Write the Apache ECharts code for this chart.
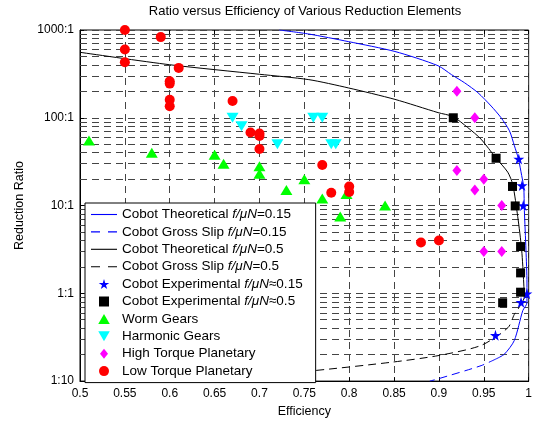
<!DOCTYPE html>
<html><head><meta charset="utf-8">
<script src="https://cdn.jsdelivr.net/npm/echarts@6/dist/echarts.min.js"></script>
<style>html,body{margin:0;padding:0;background:#fff}#c{width:535px;height:423px}</style>
</head><body><div id="c"></div>
<script>
// ---- data (efficiency, reduction ratio) ----
const blueTheory = [[0.722,1000],[0.755,900],[0.799,738],[0.851,569],[0.899,392],[0.914,310],[0.9287,250],[0.9435,193],[0.9582,136],[0.9693,100],[0.9786,71],[0.9841,48],[0.9886,34],[0.9922,22],[0.9945,16.3],[0.9952,8.85],[0.997,3.13],[0.9981,1.31],[0.9981,0.78],[0.9934,0.634],[0.984,0.29],[0.973,0.203],[0.9637,0.179]];
const blueSlip = [[0.9637,0.179],[0.947,0.150],[0.899,0.106],[0.8898,0.1]];
const blackTheory = [[0.5,557],[0.6,402],[0.7,313],[0.755,272],[0.799,219],[0.851,162],[0.899,114.5],[0.9157,103],[0.932,77.5],[0.947,57],[0.9637,34.6],[0.9767,24],[0.9823,17.3],[0.9878,7.5],[0.9922,3.13],[0.9945,1.31],[0.995,0.89],[0.993,0.8]];
const blackSlip = [[0.993,0.8],[0.988,0.656],[0.984,0.575],[0.977,0.407],[0.947,0.255],[0.899,0.195],[0.847,0.164],[0.762,0.132],[0.6475,0.1035],[0.6,0.1018],[0.58,0.1]];
const cobotExp015 = [[0.989,34],[0.9926,16.9],[0.994,10],[0.998,0.99],[0.9915,0.79],[0.963,0.333]];
const cobotExp05 = [[0.916,100],[0.9637,34.6],[0.982,16.5],[0.985,9.9],[0.991,3.41],[0.991,1.71],[0.991,1.03],[0.971,0.78]];
const wormGears = [[0.51,55],[0.58,40],[0.65,38],[0.66,30],[0.70,28],[0.70,23],[0.73,15],[0.75,20],[0.77,12],[0.797,13.5],[0.79,7.5],[0.84,10]];
const harmonicGears = [[0.67,100],[0.68,80],[0.72,50],[0.76,100],[0.77,100],[0.78,50],[0.785,50]];
const highTorque = [[0.92,200],[0.94,100],[0.92,25],[0.95,20],[0.94,15],[0.97,10],[0.95,3],[0.97,3]];
const lowTorque = [[0.55,1000],[0.55,600],[0.55,430],[0.59,830],[0.61,370],[0.60,260],[0.60,245],[0.60,160],[0.60,135],[0.67,155],[0.69,68],[0.70,66],[0.70,62],[0.70,44],[0.77,29],[0.78,14],[0.80,16.5],[0.80,14.3],[0.88,3.8],[0.90,4]];
const yTickValues = [0.1,1,10,100,1000];
const yTickLabels = ['1:10','1:1','10:1','100:1','1000:1'];
const yMinorGrid = [0.2,0.3,0.4,0.5,0.6,0.7,0.8,0.9,2,3,4,5,6,7,8,9,20,30,40,50,60,70,80,90,200,300,400,500,600,700,800,900];
const names = ['Cobot Theoretical f/μN=0.15','Cobot Gross Slip f/μN=0.15','Cobot Theoretical f/μN=0.5','Cobot Gross Slip f/μN=0.5','Cobot Experimental f/μN≈0.15','Cobot Experimental f/μN≈0.5','Worm Gears','Harmonic Gears','High Torque Planetary','Low Torque Planetary'];

const FONT = 'Arial, "Liberation Sans", sans-serif';
const gridDash = {type:[7,5], color:'#444', width:1};
const starPath = 'path://M50,0 L61,35 L98,35 L68,57 L79,91 L50,70 L21,91 L32,57 L2,35 L39,35 Z';
const downTri = 'path://M0,0 L100,0 L50,87 Z';
const upTri = 'path://M50,0 L100,87 L0,87 Z';
const squarePath = 'path://M0,0 L10,0 L10,10 L0,10 Z';
const diamondPath = 'path://M40,0 L80,50 L40,100 L0,50 Z';
const solidIcon = 'path://M0,0 L26,0 L26,1.1 L0,1.1 Z';
const dashIcon = 'path://M0,0 L9,0 L9,1.1 L0,1.1 Z M17,0 L26,0 L26,1.1 L17,1.1 Z';
const symbols = [solidIcon, dashIcon, solidIcon, dashIcon, starPath, squarePath, upTri, downTri, diamondPath, 'circle'];

const chart = echarts.init(document.getElementById('c'), null, {renderer:'canvas'});
function lineSeries(name, data, color, dashed, extra) {
  return Object.assign({
    name, type:'line', data, symbol:'none', smooth:0.25, clip:true, z:3,
    lineStyle:{color, width:1, type: dashed ? [8,5] : 'solid'},
    itemStyle:{color}
  }, extra || {});
}
function scatter(name, data, color, symbol, size) {
  return {name, type:'scatter', data, symbol, symbolSize:size, z:4,
    itemStyle:{color, opacity:1}, emphasis:{disabled:true}};
}
chart.setOption({
  animation:false,
  backgroundColor:'#fff',
  title:{text:'Ratio versus Efficiency of Various Reduction Elements', left:305, top:5, padding:0, textAlign:'center',
    textStyle:{fontSize:13, fontWeight:'normal', fontFamily:FONT, color:'#000'}},
  grid:{left:80, right:5, top:30, bottom:39, show:true, borderColor:'#000', borderWidth:1, backgroundColor:'transparent'},
  legend:{
    orient:'vertical', left:85, top:203, padding:[4,13,4,6], itemGap:2.4, itemWidth:26, itemHeight:10,
    backgroundColor:'#fff', borderColor:'#000', borderWidth:1, borderRadius:0,
    data:names.map((n, i) => ({name:n, icon:symbols[i]})),
    selectedMode:false, symbolKeepAspect:true,
    formatter: n => n.replace('f/μN', '{i|f/μN}'),
    textStyle:{fontSize:13.5, fontFamily:FONT, color:'#000', lineHeight:15,
      rich:{i:{fontStyle:'italic', fontSize:13.5, fontFamily:FONT, color:'#000', lineHeight:15}}}
  },
  xAxis:[{
    type:'value', min:0.5, max:1, interval:0.05, name:'Efficiency', nameLocation:'middle', nameGap:22,
    nameTextStyle:{fontSize:12.5, fontFamily:FONT, color:'#000'},
    axisLine:{lineStyle:{color:'#000'}}, axisTick:{inside:true, length:4, lineStyle:{color:'#000'}},
    axisLabel:{fontSize:12, fontFamily:FONT, color:'#000', margin:7},
    splitLine:{show:true, lineStyle:gridDash}
  },{
    type:'value', position:'top', min:0.5, max:1, interval:0.05,
    axisLine:{show:false}, axisTick:{inside:true, length:4, lineStyle:{color:'#000'}},
    axisLabel:{show:false}, splitLine:{show:false}
  }],
  yAxis:[{
    type:'log', logBase:10, min:0.1, max:1000, name:'Reduction Ratio', nameLocation:'middle', nameGap:52,
    nameTextStyle:{fontSize:12.5, fontFamily:FONT, color:'#000'},
    axisLine:{lineStyle:{color:'#000'}}, axisTick:{inside:true, length:4, lineStyle:{color:'#000'}},
    axisLabel:{fontSize:12, fontFamily:FONT, color:'#000', margin:6,
      formatter: v => { const i = yTickValues.findIndex(t => Math.abs(t - v) / t < 1e-6); return i >= 0 ? yTickLabels[i] : ''; }},
    splitLine:{show:true, lineStyle:gridDash}
  },{
    type:'log', logBase:10, min:0.1, max:1000, position:'right',
    axisLine:{show:false}, axisTick:{inside:true, length:4, lineStyle:{color:'#000'}},
    axisLabel:{show:false}, splitLine:{show:false}
  }],
  series:[
    lineSeries(names[0], blueTheory, '#0000ff', false, {
      markLine:{silent:true, symbol:['none','none'], z:1, animation:false, label:{show:false},
        lineStyle:gridDash, emphasis:{disabled:true},
        data: yMinorGrid.map(v => ({yAxis:v}))}
    }),
    lineSeries(names[1], blueSlip, '#0000ff', true),
    lineSeries(names[2], blackTheory, '#000000', false),
    lineSeries(names[3], blackSlip, '#000000', true),
    scatter(names[4], cobotExp015, '#0000ff', starPath, 11),
    scatter(names[5], cobotExp05, '#000000', squarePath, 9),
    scatter(names[6], wormGears, '#00ff00', upTri, [12,10]),
    scatter(names[7], harmonicGears, '#00ffff', downTri, [12,10]),
    scatter(names[8], highTorque, '#ff00ff', diamondPath, [9,11]),
    scatter(names[9], lowTorque, '#ff0000', 'circle', 10)
  ]
});
</script></body></html>
